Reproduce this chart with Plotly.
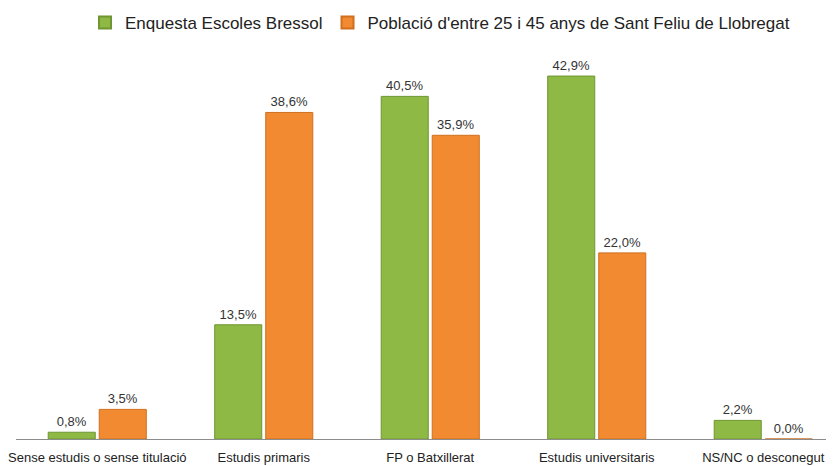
import plotly.graph_objects as go

categories = ["Sense estudis o sense titulació", "Estudis primaris", "FP o Batxillerat",
              "Estudis universitaris", "NS/NC o desconegut"]
enquesta = [0.8, 13.5, 40.5, 42.9, 2.2]
poblacio = [3.5, 38.6, 35.9, 22.0, 0.0]
series_names = ["Enquesta Escoles Bressol", "Població d'entre 25 i 45 anys de Sant Feliu de Llobregat"]

def fmt(v):
    return f"{v:.1f}%".replace(".", ",")

fig = go.Figure()
fig.add_trace(go.Bar(
    x=categories, y=enquesta, name=series_names[0],
    marker=dict(color="#8db944", line=dict(color="#6f9632", width=1)),
    text=[fmt(v) for v in enquesta], textposition="outside",
    textfont=dict(size=13, color="#333333"), cliponaxis=False,
))
fig.add_trace(go.Bar(
    x=categories, y=poblacio, name=series_names[1],
    marker=dict(color="#f18a30", line=dict(color="#d06f1e", width=1)),
    text=[fmt(v) for v in poblacio], textposition="outside",
    textfont=dict(size=13, color="#333333"), cliponaxis=False,
))

fig.update_layout(
    width=834, height=466,
    margin=dict(l=8, r=8, t=52, b=35, autoexpand=False),
    paper_bgcolor="white", plot_bgcolor="white",
    font=dict(family="Liberation Sans", size=12, color="#222222"),
    barmode="group", bargap=0.387, bargroupgap=0.078,
    showlegend=True,
    legend=dict(orientation="h", x=0.518, xanchor="center", y=0.968, yanchor="middle",
                xref="container", yref="container",
                font=dict(size=17, color="#222222"), itemsizing="constant",
                traceorder="normal"),
    xaxis=dict(range=[-0.488, 4.425], showline=True, linecolor="#8c8c8c", linewidth=1,
               ticks="", tickfont=dict(size=13, color="#222222"), showgrid=False,
               automargin=False, ticklabelstandoff=6),
    yaxis=dict(range=[0, 44.8], visible=False, showgrid=False, automargin=False),
)

fig.write_html("out.html")
